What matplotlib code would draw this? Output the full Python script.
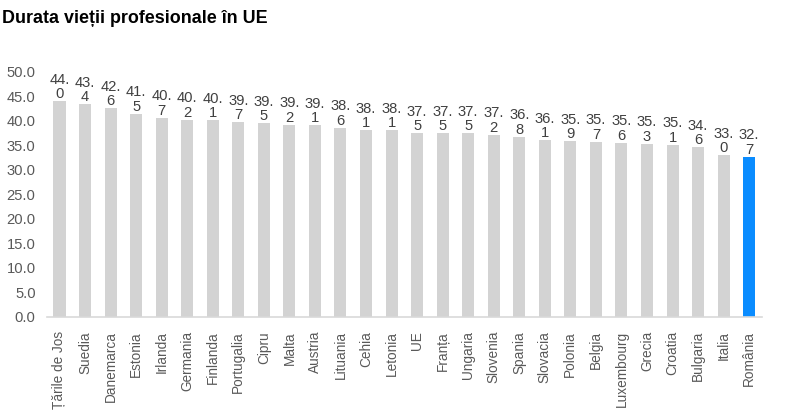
import matplotlib
matplotlib.use("Agg")
import matplotlib.pyplot as plt

categories = ["Țările de Jos", "Suedia", "Danemarca", "Estonia", "Irlanda", "Germania",
              "Finlanda", "Portugalia", "Cipru", "Malta", "Austria", "Lituania", "Cehia",
              "Letonia", "UE", "Franța", "Ungaria", "Slovenia", "Spania", "Slovacia",
              "Polonia", "Belgia", "Luxembourg", "Grecia", "Croatia", "Bulgaria", "Italia",
              "România"]
values = [44.0, 43.4, 42.6, 41.5, 40.7, 40.2, 40.1, 39.7, 39.5, 39.2, 39.1, 38.6, 38.1,
          38.1, 37.5, 37.5, 37.5, 37.2, 36.8, 36.1, 35.9, 35.7, 35.6, 35.3, 35.1, 34.6,
          33.0, 32.7]
yticks = [0, 5, 10, 15, 20, 25, 30, 35, 40, 45, 50]
highlight = "România"

plt.rcParams['font.family'] = ['Liberation Sans', 'DejaVu Sans']

fig = plt.figure(figsize=(7.92, 4.16), dpi=100)
ax = fig.add_axes([0.059, 0.238, 0.903, 0.589])

colors = ["#0a8cff" if c == highlight else "#d3d3d3" for c in categories]
x = list(range(len(categories)))
bars = ax.bar(x, values, width=0.47, color=colors, zorder=2)

for xi, v in zip(x, values):
    s = f"{v:.1f}"
    a, b = s.split(".")
    ax.annotate(f"{a}.\n{b}", (xi, v), xytext=(0, 0), textcoords="offset points",
                ha="center", va="bottom", fontsize=10.6, color="#404040", linespacing=1.05)

ax.set_xlim(-0.5, len(categories) - 0.5)
ax.set_ylim(0, 50)
ax.set_yticks(yticks)
ax.set_yticklabels([f"{t:.1f}" for t in yticks], fontsize=10.6, color="#595959")
ax.set_xticks(x)
ax.set_xticklabels(categories, rotation=90, fontsize=9.8, color="#595959")
ax.tick_params(axis="both", length=0)
ax.tick_params(axis="y", pad=8)
ax.tick_params(axis="x", pad=10)
for sp in ["top", "right", "left"]:
    ax.spines[sp].set_visible(False)
ax.spines["bottom"].set_color("#d9d9d9")
ax.spines["bottom"].set_linewidth(1.2)

fig.text(0.003, 0.955, "Durata vieții profesionale în UE", fontsize=12.9, fontweight="bold",
         color="#000000", ha="left", va="center")

fig.savefig("out.png", dpi=100)
